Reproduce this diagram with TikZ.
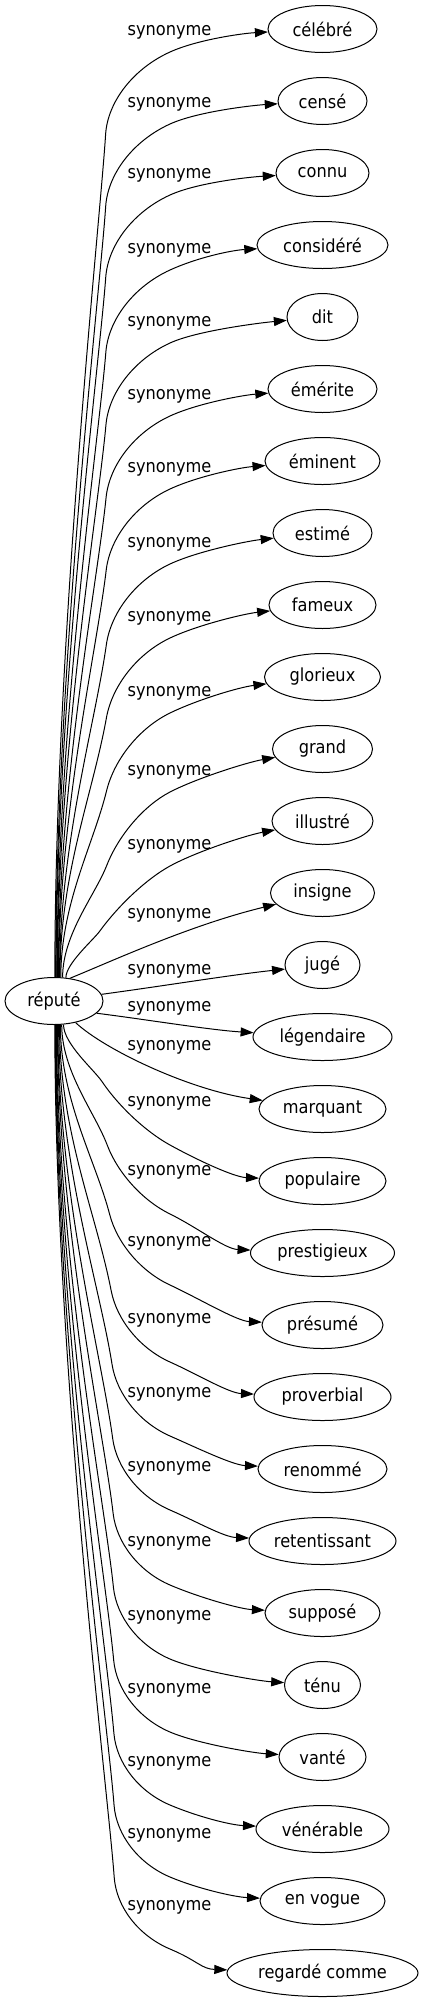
\documentclass[tikz,border=0pt]{standalone}
\usepackage{fontspec}
\newfontfamily\gv{DejaVu Sans}[FakeStretch=0.9]
\newcommand\gvf{\gv\fontsize{18bp}{21bp}\selectfont}
\usetikzlibrary{arrows.meta,shapes.geometric,calc}
\begin{document}
\begin{tikzpicture}[x=1bp,y=-1bp,
  tn/.style={ellipse,draw,line width=1bp,inner sep=0pt,minimum height=47bp,font=\gvf},
  lab/.style={inner sep=0pt,font=\gvf},
  edge/.style={line width=1bp,-{Triangle[length=13bp,width=9bp]}}]
\useasboundingbox (0,0) rectangle (423,2003);
\node[tn,minimum width=98bp] (rep) at (54,1001) {réputé};
\foreach \n/\t/\w [count=\i from 0] in {celebre/célébré/109, cense/censé/89, connu/connu/93, considere/considéré/131, dit/dit/71, emerite/émérite/109, eminent/éminent/115, estime/estimé/99, fameux/fameux/107, glorieux/glorieux/116, grand/grand/100, illustre/illustré/101, insigne/insigne/104, juge/jugé/75, legendaire/légendaire/139, marquant/marquant/127, populaire/populaire/127, prestigieux/prestigieux/144, presume/présumé/121, proverbial/proverbial/137, renomme/renommé/129, retentissant/retentissant/147, suppose/supposé/115, tenu/ténu/76, vante/vanté/87, venerable/vénérable/133, envogue/en vogue/125, regarde/regardé comme/191}
  \node[tn,minimum width=\w bp] (\n) at (322.5,{29+72*\i}) {\t};
\foreach \L [count=\i] in {32,104,175,250,323,396,469,544,618,693,772,846,915,971,1008,1047,1103,1172,1243,1320,1394,1468,1543,1617,1690,1763,1835,1907}
  \node[lab] (lab\i) at (169.5,\L) {synonyme};
% upper edges
\foreach \n/\a/\L/\T in {celebre/88/32/29, cense/86.5/104/101, connu/85/175/173, considere/83.5/250/245, dit/82/323/317, emerite/80.5/396/389, eminent/79/469/461, estime/77.5/544/533, fameux/76/618/605, glorieux/74/693/677, grand/70/772/749, illustre/63/846/821}{
  \pgfmathsetmacro\dd{977-\L-45}
  \pgfmathsetmacro\cx{min(132,105+3500/\dd)}
  \pgfmathsetmacro\cy{\L+48-0.3*(\cx-108)}
  \pgfmathsetmacro\lenx{977-\cy-55}
  \pgfmathsetmacro\ka{max(5,0.4*\lenx)}
  \pgfmathsetmacro\kb{min(80,max(5,0.3*\lenx))}
  \pgfmathsetmacro\my{\L+20}
  \pgfmathsetmacro\dv{0.45*(\L-\T)+3}
  \coordinate (C) at (\cx,\cy);
  \coordinate (M) at (170,\my);
  \coordinate (Q) at ($(C)!55bp!(rep.\a)$);
  \draw[edge] (rep.\a) .. controls +(0,-\ka) and ($(Q)!\kb bp!(rep.\a)$) .. (Q)
    .. controls ($(Q)!0.6!(C)$) and ($(M)!0.6!(C)$) .. (M)
    .. controls ($(M)!-30bp!(C)$) and ($(\n.west)+(-25,\dv)$) .. (\n);
}
% lower edges
\foreach \n/\a/\L in {populaire/-68/1103, prestigieux/-72/1172, presume/-75/1243, proverbial/-77/1320, renomme/-79/1394, retentissant/-81/1468, suppose/-82.5/1543, tenu/-84/1617, vante/-85.5/1690, venerable/-86.5/1763, envogue/-87.5/1835, regarde/-88.5/1907}{
  \pgfmathsetmacro\dd{\L+20-1025}
  \pgfmathsetmacro\cx{min(130,116+1500/\dd)}
  \pgfmathsetmacro\cy{\L+20}
  \pgfmathsetmacro\lenx{\cy-1025-50}
  \pgfmathsetmacro\ka{max(5,0.4*\lenx)}
  \pgfmathsetmacro\kb{min(80,max(5,0.3*\lenx))}
  \pgfmathsetmacro\my{\L+42}
  \coordinate (C) at (\cx,\cy);
  \coordinate (M) at (170,\my);
  \coordinate (Q) at ($(C)!50bp!(rep.\a)$);
  \draw[edge] (rep.\a) .. controls +(0,\ka) and ($(Q)!\kb bp!(rep.\a)$) .. (Q)
    .. controls ($(Q)!0.6!(C)$) and ($(M)!0.6!(C)$) .. (M)
    .. controls ($(M)!-30bp!(C)$) and ($(\n.west)+(-25,-4)$) .. (\n);
}
% middle edges
\draw[edge] (rep.55) .. controls (110,962) and (190,925) .. (insigne);
\draw[edge] (rep.8) .. controls (170,985) and (230,975) .. (juge);
\draw[edge] (rep.-16) .. controls (150,1020) and (210,1030) .. (legendaire);
\draw[edge] (rep.-45) .. controls (105,1050) and (190,1090) .. (marquant);
\end{tikzpicture}
\end{document}
